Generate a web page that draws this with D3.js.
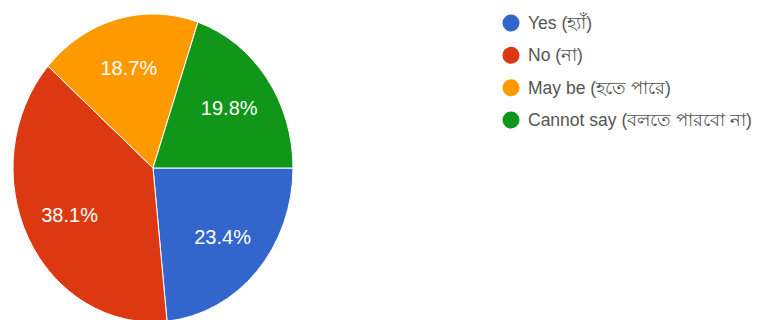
<!DOCTYPE html>
<html>
<head>
<meta charset="utf-8">
<script src="https://cdn.jsdelivr.net/npm/d3@7"></script>
<style>
  html, body { margin: 0; padding: 0; background: #fff; }
  svg { display: block; }
</style>
</head>
<body>
<svg id="chart" width="776" height="320"></svg>
<script>
// Survey answers and their shares (percent)
const categories = ["Yes (হ্যাঁ)", "No (না)", "May be (হতে পারে)", "Cannot say (বলতে পারবো না)"];
const shares = [23.4, 38.1, 18.7, 19.8];
const colors = ["#3366cc", "#dc3912", "#ff9900", "#109618"];

const svg = d3.select("#chart");
const cx = 153, cy = 168, radius = 140, yStretch = 1.1;

const pie = d3.pie()
  .sort(null)
  .value(d => d.value)
  .startAngle(Math.PI / 2)
  .endAngle(Math.PI / 2 + 2 * Math.PI);

const data = categories.map((c, i) => ({ name: c, value: shares[i], color: colors[i] }));
const arcs = pie(data);

const arc = d3.arc().innerRadius(0).outerRadius(radius);
const labelArc = d3.arc().innerRadius(radius * 0.67).outerRadius(radius * 0.67);

// Slices, drawn slightly taller than wide
const slices = svg.append("g")
  .attr("transform", `translate(${cx},${cy}) scale(1,${yStretch})`);

slices.selectAll("path")
  .data(arcs)
  .join("path")
  .attr("d", arc)
  .attr("fill", d => d.data.color)
  .attr("stroke", "#fff")
  .attr("stroke-width", 1)
  .attr("vector-effect", "non-scaling-stroke");

// Percentage labels inside each slice
svg.append("g")
  .attr("transform", `translate(${cx},${cy})`)
  .selectAll("text")
  .data(arcs)
  .join("text")
  .attr("x", d => labelArc.centroid(d)[0])
  .attr("y", d => labelArc.centroid(d)[1] * yStretch)
  .attr("text-anchor", "middle")
  .attr("dominant-baseline", "central")
  .attr("fill", "#fff")
  .attr("font-family", "Arial, 'Liberation Sans', sans-serif")
  .attr("font-size", 20)
  .text(d => d3.format(".1f")(d.data.value) + "%");

// Legend
const legendY = d3.scalePoint().domain(categories).range([23, 120]);
const legend = svg.append("g");
const items = legend.selectAll("g")
  .data(data)
  .join("g")
  .attr("transform", d => `translate(511,${legendY(d.name)})`);

items.append("circle")
  .attr("r", 8.5)
  .attr("fill", d => d.color);

items.append("text")
  .attr("x", 17)
  .attr("dominant-baseline", "central")
  .attr("fill", "#555")
  .attr("font-family", "Arial, 'Liberation Sans', sans-serif")
  .attr("font-size", 17.5)
  .text(d => d.name);
</script>
</body>
</html>
